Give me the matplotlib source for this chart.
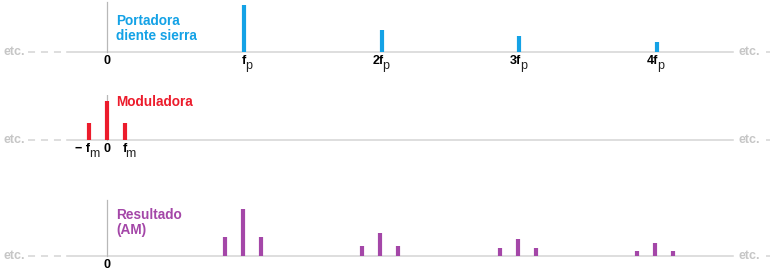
import matplotlib; matplotlib.use("Agg")
import matplotlib.pyplot as plt
from matplotlib.transforms import offset_copy

plt.rcParams["font.family"] = ["Liberation Sans", "DejaVu Sans"]

# frequencies in units of fp, amplitudes in arbitrary units
carrier_f = [1, 2, 3, 4]
carrier_amp = [47, 22.5, 16, 10]
carrier_lbl = [("f", "p"), ("2f", "p"), ("3f", "p"), ("4f", "p")]
mod_f = [-0.131, 0, 0.131]
mod_amp = [17, 39, 17]
mod_lbl = [("\u2212 f", "m"), ("0", ""), ("f", "m")]
res_f = [0.86, 0.99, 1.12, 1.855, 1.985, 2.115, 2.86, 2.99, 3.12, 3.855, 3.985, 4.115]
res_amp = [19, 47, 19, 10, 23, 10, 8, 17, 8, 5, 13, 5]

BLUE, RED, PURPLE = "#14A2E6", "#EC1C2C", "#A447A8"
AXC, ETC, VC = "#D4D4D4", "#C6C6C6", "#B8B8B8"

W, H = 770, 272
X0, SX = 107, 137.5          # pixel of f=0, pixels per fp
fig = plt.figure(figsize=(W/100, H/100), dpi=100)

def panel(top, bot, base, vtop):
    ax = fig.add_axes([0, 1-bot/H, 1, (bot-top)/H])
    ax.set_xlim(-X0/SX, (W-X0)/SX); ax.set_ylim(-(bot-base), base-top)
    ax.axis("off")
    px = lambda p: (p-X0)/SX
    ax.plot([px(67), px(733)], [0, 0], color=AXC, lw=1.1, zorder=1)
    ax.plot([px(28), px(67)], [0, 0], color=AXC, lw=1.1, ls=(0, (4.6, 3.9)), zorder=1)
    ax.plot([px(766), px(780)], [0, 0], color=AXC, lw=1.1, ls=(0, (4.6, 3.9)), zorder=1)
    ax.plot([0, 0], [0, base-vtop], color=VC, lw=0.9, zorder=1)
    ax.text(px(3), 0, "etc.", color=ETC, fontsize=9, weight="bold", ha="left", va="center")
    ax.text(px(739), 0, "etc.", color=ETC, fontsize=9, weight="bold", ha="left", va="center")
    return ax, px

def ticklabel(ax, f, main, sub, y=-3.5):
    if not sub:
        ax.text(f, y, main, fontsize=9, weight="bold", ha="center", va="top")
        return
    tm = offset_copy(ax.transData, fig=fig, x=1.5, y=0, units="dots")
    ts = offset_copy(ax.transData, fig=fig, x=0.5, y=-4.5, units="dots")
    ax.text(f, y, main, fontsize=9, weight="bold", ha="right", va="top", transform=tm)
    ax.text(f, y, sub, fontsize=9, ha="left", va="top", transform=ts, color="#222222")

# ---- top: sawtooth carrier ----
ax, px = panel(0, 95, 52, 2)
ax.vlines(carrier_f, 0, carrier_amp, colors=BLUE, lw=3, zorder=2)
ticklabel(ax, 0, "0", "")
for f, (m, s) in zip(carrier_f, carrier_lbl):
    ticklabel(ax, f, m, s)
ax.text(px(116), 52-14, "Portadora\ndiente sierra", color=BLUE, fontsize=9.8,
        weight="bold", ha="left", va="top", linespacing=1.05)

# ---- middle: modulator ----
ax, px = panel(95, 190, 140, 80)
ax.vlines(mod_f, 0, mod_amp, colors=RED, lw=3, zorder=2)
for f, (m, s) in zip(mod_f, mod_lbl):
    ticklabel(ax, f, m, s)
ax.text(px(116), 140-95, "Moduladora", color=RED, fontsize=9.8, weight="bold",
        ha="left", va="top")

# ---- bottom: AM result ----
ax, px = panel(190, 272, 256, 200)
ax.vlines(res_f, 0, res_amp, colors=PURPLE, lw=3, zorder=2)
ticklabel(ax, 0, "0", "", y=-3)
ax.text(px(116), 256-208, "Resultado\n(AM)", color=PURPLE, fontsize=9.8,
        weight="bold", ha="left", va="top", linespacing=1.1)

fig.savefig("out.png", dpi=100)
